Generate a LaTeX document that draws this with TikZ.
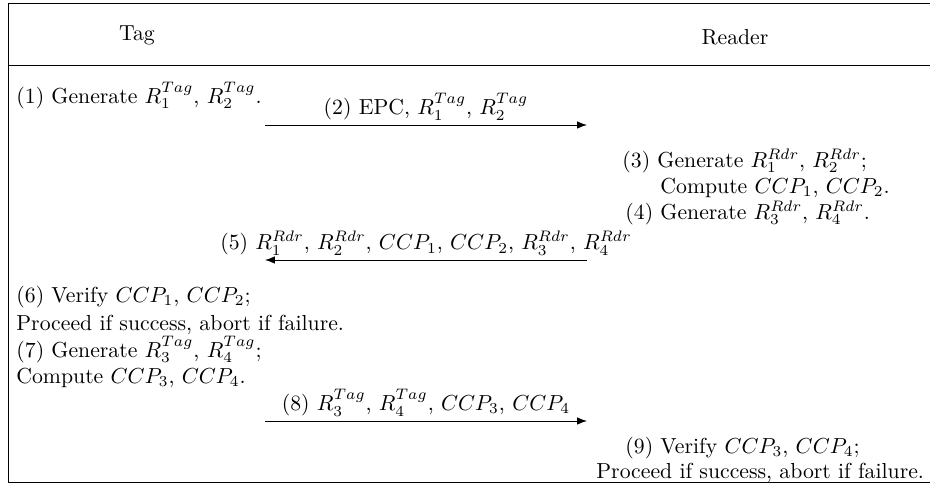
\documentclass[tikz,border=0pt]{standalone}
\usetikzlibrary{positioning,arrows.meta}

\begin{document}
\begin{tikzpicture}[
    x = 0.46pt, y = -0.46pt,
    line join=round,
    msgline/.style = {-{Latex[length=4.5pt]}},
    msgtext/.style = {above, midway, inner sep=2pt},
    steptext/.style = {anchor=base west, inner sep=0pt},
    headtext/.style = {anchor=base, inner sep=0pt}
]
    \useasboundingbox (0,0) rectangle (930,485);

    % frame of the table
    \coordinate (tl) at (8,3);
    \coordinate (tr) at (930,3);
    \coordinate (ml) at (8,65);
    \coordinate (mr) at (930,65);
    \coordinate (bl) at (8,482);
    \coordinate (br) at (930,482);

    \draw (tr) -- (tl) -- (bl) -- (br);
    \draw (ml) -- (mr);

    \node[headtext] (tag) at (137,40) {Tag};
    \node[headtext] (reader) at (735,45) {Reader};

    % tag side
    \node[steptext] (s1) at (16,103) {(1) Generate $R_1^{Tag}$, $R_2^{Tag}$.};
    \node[steptext] (s6) at (16,302) {(6) Verify $CCP_1$, $CCP_2$;};
    \node[steptext] (s6b) at (16,330) {Proceed if success, abort if failure.};
    \node[steptext] (s7) at (16,357) {(7) Generate $R_3^{Tag}$, $R_4^{Tag}$;};
    \node[steptext] (s7b) at (16,383) {Compute $CCP_3$, $CCP_4$.};

    % reader side
    \node[steptext] (s3) at (622,167) {(3) Generate $R_1^{Rdr}$, $R_2^{Rdr}$;};
    \node[steptext] (s3b) at (660,193) {Compute $CCP_1$, $CCP_2$.};
    \node[steptext] (s4) at (625,219) {(4) Generate $R_3^{Rdr}$, $R_4^{Rdr}$.};
    \node[steptext] (s9) at (625,453) {(9) Verify $CCP_3$, $CCP_4$;};
    \node[steptext] (s9b) at (596,478) {Proceed if success, abort if failure.};

    % messages
    \coordinate (t2) at (265,125);
    \coordinate (r2) at (587,125);
    \coordinate (t5) at (265,260);
    \coordinate (r5) at (587,260);
    \coordinate (t8) at (265,421);
    \coordinate (r8) at (587,421);

    \draw[msgline] (t2) -- (r2) node[msgtext] (m2) {(2) EPC, $R_1^{Tag}$, $R_2^{Tag}$};
    \draw[msgline] (r5) -- (t5) node[msgtext] (m5) {(5) $R_1^{Rdr}$, $R_2^{Rdr}$, $CCP_1$, $CCP_2$, $R_3^{Rdr}$, $R_4^{Rdr}$};
    \draw[msgline] (t8) -- (r8) node[msgtext] (m8) {(8) $R_3^{Tag}$, $R_4^{Tag}$, $CCP_3$, $CCP_4$};

\end{tikzpicture}
\end{document}
